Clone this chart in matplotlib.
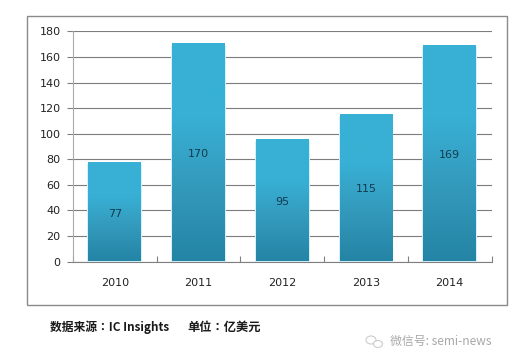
import matplotlib
matplotlib.use("Agg")
import matplotlib.pyplot as plt
import numpy as np
from matplotlib.colors import LinearSegmentedColormap
from matplotlib.patches import Rectangle, Ellipse

anios = ["2010", "2011", "2012", "2013", "2014"]
valores = [77, 170, 95, 115, 169]
ticks_y = [0, 20, 40, 60, 80, 100, 120, 140, 160, 180]

plt.rcParams['font.family'] = ['DejaVu Sans', 'Noto Sans CJK SC']

W, H = 517, 357
fig = plt.figure(figsize=(W / 100, H / 100), dpi=100, facecolor="white")

# Marco exterior del grafico
fig.add_artist(Rectangle((26.5 / W, 1 - 304.5 / H), 480 / W, 288.5 / H, transform=fig.transFigure,
                         facecolor="white", edgecolor="#8a8a8a", linewidth=1.0, zorder=-1))

ax = fig.add_axes([73 / W, 1 - 261.5 / H, 418.5 / W, 230 / H])
ax.set_facecolor("none")
x = np.arange(len(anios))
ax.set_xlim(-0.5, len(anios) - 0.5)
ax.set_ylim(0, 180)

ax.set_yticks(ticks_y)
ax.tick_params(axis="y", length=4, width=0.8, color="#808080", labelsize=8, labelcolor="#222222", pad=5)
ax.yaxis.grid(True, color="#7c7c7c", linewidth=0.8)
ax.set_axisbelow(True)

# Ticks del eje x entre categorias, etiquetas centradas
ax.set_xticks(np.arange(len(anios) + 1) - 0.5)
ax.set_xticklabels([])
ax.tick_params(axis="x", length=4, width=0.8, color="#808080", direction="in")
ax.set_xticks(x, minor=True)
ax.set_xticklabels(anios, minor=True)
ax.tick_params(axis="x", which="minor", length=0, labelsize=8, labelcolor="#222222", pad=12)

for lado in ["top", "right"]:
    ax.spines[lado].set_visible(False)
ax.spines["left"].set_color("#aaaaaa")
ax.spines["bottom"].set_color("#808080")

# Barras con degradado
degradado = LinearSegmentedColormap.from_list("azul", ["#2484a5", "#3399bb", "#38b0d5", "#38b0d5"])
grad = np.linspace(1, 0, 256).reshape(-1, 1)
ancho = 0.63
for xi, v in zip(x, valores):
    # halo claro solo a los lados
    ax.bar(xi, v - 1, ancho + 0.025, color="#d2f1fa", linewidth=0, zorder=2)
    ax.imshow(grad, extent=[xi - ancho / 2, xi + ancho / 2, 0, v], aspect="auto",
              cmap=degradado, vmin=0, vmax=1, zorder=3)
    ax.text(xi, v / 2 - 1, str(v), ha="center", va="center", fontsize=8, color="#123a50", zorder=4)
ax.set_xlim(-0.5, len(anios) - 0.5)
ax.set_ylim(0, 180)

fuente_cjk = ['Noto Sans CJK TC', 'DejaVu Sans']
fig.text(50 / W, 1 - 327 / H, "数据来源：IC Insights", fontsize=8.5, fontweight="bold",
         family=fuente_cjk, color="#1a1a1a", ha="left", va="center")
fig.text(187 / W, 1 - 327 / H, "单位：亿美元", fontsize=8.8, fontweight="bold",
         family=fuente_cjk, color="#1a1a1a", ha="left", va="center")

# Marca de agua
fig.text(390 / W, 1 - 341.5 / H, "微信号: semi-news", fontsize=8.6, family=fuente_cjk, color="#a8a8a8", ha="left", va="center")
fig.add_artist(Ellipse((371 / W, 1 - 340 / H), 10 / W, 8 / H, transform=fig.transFigure,
                       facecolor="none", edgecolor="#cccccc", linewidth=0.8))
fig.add_artist(Ellipse((378 / W, 1 - 344 / H), 9 / W, 7 / H, transform=fig.transFigure,
                       facecolor="white", edgecolor="#cccccc", linewidth=0.8))

fig.savefig("out.png", dpi=100)
